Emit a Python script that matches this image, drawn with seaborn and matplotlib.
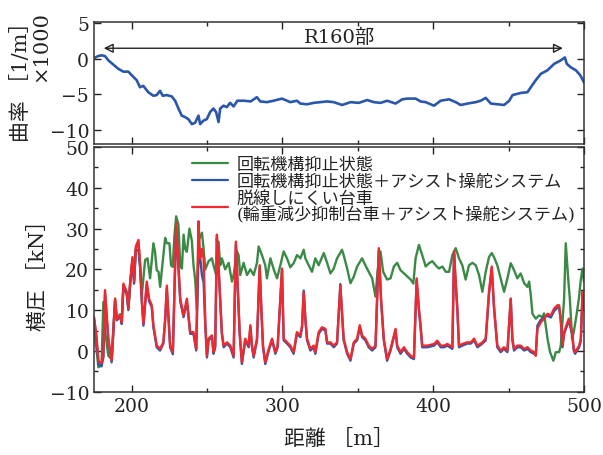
import numpy as np
import pandas as pd
import matplotlib
matplotlib.use("Agg")
import matplotlib.pyplot as plt
from matplotlib.ticker import MultipleLocator
import seaborn as sns

# ---------------- data ----------------
# curvature (top panel) [1/m] x1000
x_curv = [175, 177.8, 180, 182.3, 184.5, 187.8, 191.1, 194.5, 197.8, 200, 203.3, 205.5, 207.7, 211,
          214.4, 216.6, 218.8, 220.6, 223.2, 226.6, 228.8, 231, 233.2, 235.4, 237.6, 239.9, 242.1,
          244.3, 245.4, 247.6, 249.8, 252, 254.2, 256, 257.6, 258.7, 260.9, 263.1, 265.3, 267.6,
          270.1, 274.5, 278.9, 283, 285.3, 289.7, 294.1, 299.7, 305.2, 309.6, 311.9, 316.3, 320.7,
          325, 329.6, 334, 339.6, 345.1, 350.7, 356.2, 360.6, 365.1, 369.5, 375, 379.5, 382.8,
          388.3, 391.6, 395, 400.5, 404.9, 410.5, 414.9, 418.2, 422.7, 428.2, 431.5, 434.8, 438.2,
          442.6, 447, 450.4, 452.6, 458.1, 462.5, 464.7, 468, 471.4, 475.8, 480.2, 484.7, 487.3,
          488.6, 491.3, 494.6, 497.5, 500]
y_curv = [0.1, 0.4, 0.5, 0.4, -0.2, -0.8, -1.4, -1.8, -1.8, -2.3, -3, -4, -3.8, -4.7,
          -5.2, -5.1, -4.5, -5.2, -5.1, -5.3, -5.9, -7, -8, -8.2, -8.5, -9.2, -9,
          -8, -9.2, -8.7, -8.5, -7.5, -7, -7.5, -8.9, -7, -6.6, -6.8, -6.2, -6.7,
          -5.9, -5.9, -6, -5.4, -6, -6.1, -5.9, -5.6, -6.1, -5.9, -6.3, -6.4, -6.2,
          -6.1, -6, -6.1, -6.5, -6.1, -6.2, -5.8, -6.1, -6.2, -5.9, -6.3, -5.7, -5.6,
          -5.6, -6, -6.1, -6.6, -5.9, -5.7, -6.1, -6.5, -6.3, -6.1, -5.9, -5.5, -6.3,
          -6.4, -6.5, -5.9, -5.1, -4.8, -4.7, -4, -3, -2.1, -1.6, -0.7, -0.2, 0.2,
          -0.7, -1.2, -1.6, -2.3, -3.3]

# lateral force (bottom panel) [kN]
x_rb = [175, 176.5, 178, 180, 181.2, 182.3, 184.5, 186.7, 189, 190.1, 192.3, 193.4, 194.5, 196.7,
        197.8, 199, 200.5, 201.6, 202.7, 204.5, 205.6, 206.7, 207.8, 210, 211.5, 213.3, 214.4,
        216.6, 218.8, 221, 222.2, 223.3, 225.5, 227.3, 229.5, 231, 232.2, 234.4, 236.6, 238.8,
        241, 242.8, 244.3, 245.4, 246.6, 247.7, 248.8, 249.9, 251, 253.2, 254.3, 255.4, 256.5,
        257.6, 258.7, 259.8, 261, 263.2, 265.4, 267.6, 269.1, 270.2, 271.6, 273.1, 275.3, 277.6,
        278.7, 279.8, 280.9, 283.1, 284.9, 286, 287.1, 288.6, 290.9, 293.1, 295.3, 296.8, 299.7,
        300.8, 303, 305.2, 307.4, 309.6, 311.9, 313, 314.1, 315.2, 316.3, 318.5, 320.7, 321.8,
        324, 326.2, 328.5, 329.6, 331.8, 334, 336.2, 338.4, 339.5, 340.6, 342.9, 345.1, 347.3,
        349.5, 351.3, 352.8, 355, 357.2, 359.5, 361.7, 363.9, 365.4, 367.2, 369.4, 371.7, 375,
        376.1, 378.3, 380.6, 382.8, 385, 387.2, 389, 390.5, 391.6, 392.7, 396.1, 400.5, 402.7,
        405, 407.2, 409.4, 412.7, 413.8, 414.9, 416, 417.1, 419.3, 422.6, 424.9, 427.1, 429.3,
        432.6, 434.8, 437, 438.8, 440.3, 442.5, 444.7, 446.9, 449.2, 451.4, 452.5, 453.6, 455.8,
        458, 460.3, 462.5, 464.7, 466.9, 468, 469.1, 471.3, 473.5, 475.8, 478, 480.2, 482.4,
        483.5, 484.6, 485.7, 486.8, 489.9, 492.1, 493.2, 494.1, 496.8, 497.9, 499, 500]
y_red = [8.3, 4, -2.5, -3, -1.2, 14.9, 3, -2.4, 12.8, 7.9, 8.7, 7, 16.5, 14.5,
         10.4, 17, 23, 17, 25.6, 27.2, 21, 12.8, 6.7, 17, 12.8, 11.2, 6.3,
         1.3, 0.5, 2.1, 7.9, 16, 1.3, -0.3, 31.4, 21, 12.8, 8.7, 12.8, 4.6,
         4.6, 0.5, 31.8, 22.7, 25, 22.7, 7, -1.2, 3, 3.8, -0.3, 1.3, 28.5,
         21, 12.8, 4.6, 1.3, 2.1, 1.3, -1.2, 26.8, 17, 4.6, -2.8, 3, 1.3,
         6.3, 1.3, -1.2, 3, 21, 10.4, 1.3, -2.8, 0.5, 3, -0.3, 1.3, 20.2,
         3, 2.1, 1.3, -0.3, 4.6, 3.8, 6.3, 14.5, 7.9, 3, 0.5, 1.3, -0.3,
         4.6, 5.8, 5.4, 2.1, 2.1, 1.3, 2.1, 16, 9.5, 3, -0.3, -2, 2.1,
         3, 6.3, 3.8, 3, 1.3, 0.5, 1.3, 25.2, 12.8, 3, -2, 0.5, 5.4,
         1.3, -0.3, 0.9, -0.3, -1.2, -1.6, 17.8, 10.4, 6.3, 1.3, 1.3, 1.7, 2.5,
         1.3, 1.3, 1.7, 0.9, 24.4, 17, 10.4, 1.3, 1.7, 2.1, 2.1, 3, 1.3,
         2.1, 3, 14.5, 20.7, 11, 1.3, 0.1, 0.9, 0.1, 12.8, 3, 0.5, 1.3,
         1.3, 0.5, 0.9, 0.1, -0.3, -1.2, 5.4, 7, 7.9, 9.1, 8.7, 10.4, 11.2,
         11.2, 7.9, 1.3, 4.6, 7.9, 4.6, 0.5, -0.3, 1.3, 3, 14.5, 10.4]
y_blue = [8.0, 3.5, -3.2, -3.8, -1.6, 14.0, 2.6, -2.8, 12.2, 7.5, 8.4, 6.6, 15.8, 14.0,
          10.0, 16.4, 22.2, 16.5, 24.7, 24.7, 20.2, 12.0, 6.2, 16.2, 12.2, 10.8, 5.8,
          0.9, 0.1, 1.8, 7.4, 15.2, 0.9, -0.8, 30.6, 20.4, 12.2, 8.3, 12.2, 4.2,
          4.2, 0.1, 23.5, 23.0, 18.5, 16.8, 6.4, -1.6, 2.6, 3.4, -0.7, 0.9, 27.6,
          20.4, 12.2, 4.2, 0.9, 1.8, 0.9, -1.6, 26.0, 16.4, 4.2, -3.2, 2.6, 0.9,
          5.8, 0.9, -1.6, 2.6, 20.6, 10.0, 0.9, -3.2, 0.1, 2.6, -0.7, 0.9, 19.8,
          2.6, 1.8, 0.9, -0.7, 4.2, 3.4, 5.8, 14.8, 7.5, 2.6, 0.1, 0.9, -0.7,
          4.2, 5.4, 5.0, 1.8, 1.8, 0.9, 1.8, 16.4, 9.1, 2.6, -0.7, -2.4, 1.8,
          2.6, 5.8, 3.4, 2.6, 0.9, 0.1, 0.9, 24.6, 12.2, 2.6, -2.4, 0.1, 5.0,
          0.9, -0.7, 0.5, -0.7, -1.6, -2.0, 17.2, 10.0, 5.8, 0.9, 0.9, 1.3, 2.1,
          0.9, 0.9, 1.3, 0.5, 23.8, 16.4, 10.0, 0.9, 1.3, 1.8, 1.8, 2.6, 0.9,
          1.8, 2.6, 14.0, 20.2, 10.6, 0.9, -0.3, 0.5, -0.3, 12.8, 2.6, 0.1, 0.9,
          0.9, 0.1, 0.5, -0.3, -0.7, -1.0, 6.2, 7.6, 8.3, 8.6, 8.2, 9.8, 10.6,
          10.6, 7.4, 0.9, 4.2, 7.4, 4.2, 0.1, -0.7, 0.9, 2.6, 13.8, 10.0]

x_green = [175, 176.5, 177.9, 180, 181.2, 182.3, 184.5, 186.7, 189, 190.1, 192.3, 193.4, 194.5,
           196.7, 197.8, 199, 200.5, 201.6, 202.7, 204.5, 205.6, 206.7, 208.9, 210.5, 212.2,
           214.4, 215.5, 216.6, 217.8, 218.9, 220, 222.2, 223.3, 225, 226.1, 227.2, 228.3,
           229.5, 231, 232.2, 233.3, 234.4, 235.5, 236.6, 238.3, 239.9, 241, 242.1, 243.2,
           244.3, 246.6, 247.7, 248.8, 251, 253.2, 254.3, 256, 257.6, 258.7, 259.8, 262,
           264.3, 266.5, 267.6, 269.8, 270.9, 272, 274.2, 276.5, 278.7, 280.9, 283.1, 284.2,
           286.4, 288.6, 289.7, 292, 294.2, 296.4, 298.6, 300.8, 303, 305.2, 307.4, 309.7,
           311.9, 314.1, 315.2, 317.4, 319.6, 321.8, 324, 327.4, 329.6, 331.8, 334, 336.2,
           339.5, 340.6, 342.9, 345.1, 347.3, 349.5, 352.8, 355, 357.2, 359.5, 361.7, 363.2,
           365, 366.8, 369.4, 371.7, 373.9, 376.1, 378.3, 380.6, 382.8, 385, 386.8, 388.3,
           390.5, 392.7, 395, 397.2, 399.4, 401.6, 403.8, 406.1, 408.3, 410.5, 412.7, 414.9,
           417.1, 419.3, 421.5, 423.7, 426, 428.2, 430.4, 432.6, 434.8, 437, 438.8, 440.3,
           442.5, 444.7, 447, 449.2, 451.4, 453.6, 455.8, 458, 460.3, 462.5, 463.6, 464.7,
           465.8, 468, 470.2, 472.4, 473.5, 475.8, 477.5, 479.7, 481.3, 483.5, 484.6, 486.8,
           487.9, 489.5, 490.6, 492.1, 493.2, 495, 496.6, 497.9, 499, 500]
y_green = [5, 1, -4, -3.5, 12, 5, -1.2, -2, 12.8, 8, 9, 7.5, 16,
           14, 10.5, 16.5, 22.5, 17.5, 25, 26.5, 21, 13.7, 22.3, 22.7, 17.8,
           26.4, 24.3, 19.8, 19.4, 15.7, 19.8, 27.7, 26.4, 26.4, 21, 20.6, 28,
           33, 31, 21, 20.2, 28.5, 25, 24.3, 30, 27, 21, 17.5, 10,
           27, 29, 25, 20, 22, 22.7, 21, 18.6, 26.8, 21, 22.7, 20,
           21.6, 17, 18.6, 24.4, 23.5, 18.6, 21.6, 18.6, 20, 18.6, 21.6, 25.6,
           23.5, 21, 17.8, 22.7, 20, 17.8, 21, 24.4, 22.7, 20.5, 21.5, 23.5,
           22.7, 24.8, 22.7, 21, 19.4, 22.7, 21, 24, 21.6, 19, 20.2, 22.7,
           24.8, 23.5, 20.2, 16.6, 18.2, 20.7, 22.7, 21, 19.4, 17.8, 13.3, 20,
           24.4, 19.4, 17.5, 17.8, 20.7, 21.6, 19.8, 19, 18.2, 17.5, 16.5, 22.7,
           26, 23.5, 20.7, 21.5, 22, 21, 20.2, 20.7, 19.4, 19.4, 23.5, 25.2,
           22.7, 21, 17.5, 21, 21.6, 21, 18.6, 14.5, 19.4, 23, 24, 23,
           21, 17.8, 14.5, 17.8, 21.5, 19.8, 17.8, 19, 16.6, 15.7, 17, 13.7,
           9.1, 7.9, 8.7, 8.3, 9.2, 3, -0.3, -2.4, -0.3, -0.3, 1.3, 12.8,
           26.4, 17.8, 12.8, 3, 4.6, 8.7, 12.8, 17.5, 20.2, 17]

labels = ["回転機構抑止状態",
          "回転機構抑止状態＋アシスト操舵システム",
          "脱線しにくい台車\n(輪重減少抑制台車＋アシスト操舵システム)"]

# ---------------- style ----------------
sns.set_theme(style="ticks")
plt.rcParams["font.family"] = ["DejaVu Serif", "Noto Sans CJK JP"]
plt.rcParams["axes.unicode_minus"] = True
plt.rcParams["text.color"] = "#222222"
plt.rcParams["axes.labelcolor"] = "#222222"
plt.rcParams["xtick.color"] = "#222222"
plt.rcParams["ytick.color"] = "#222222"

fig = plt.figure(figsize=(6.03, 4.56), dpi=100)
ax1 = fig.add_axes([94 / 603, 1 - 145 / 456, 490 / 603, 122 / 456])
ax2 = fig.add_axes([94 / 603, 1 - 392.7 / 456, 490 / 603, 244.7 / 456])

c_green = "#3a8a46"
c_blue = "#2a57aa"
c_red = "#ee2a30"

df_c = pd.DataFrame({"x": x_curv, "y": y_curv})
sns.lineplot(data=df_c, x="x", y="y", ax=ax1, color=c_blue, lw=1.9,
             estimator=None, sort=False)

df_g = pd.DataFrame({"x": x_green, "y": y_green})
df_b = pd.DataFrame({"x": x_rb, "y": y_blue})
df_r = pd.DataFrame({"x": x_rb, "y": y_red})
sns.lineplot(data=df_g, x="x", y="y", ax=ax2, color=c_green, lw=1.7,
             estimator=None, sort=False, label=labels[0])
sns.lineplot(data=df_b, x="x", y="y", ax=ax2, color=c_blue, lw=1.7,
             estimator=None, sort=False, label=labels[1])
sns.lineplot(data=df_r, x="x", y="y", ax=ax2, color=c_red, lw=1.7,
             estimator=None, sort=False, label=labels[2])

for ax in (ax1, ax2):
    ax.set_xlim(175, 500)
    ax.xaxis.set_major_locator(MultipleLocator(100))
    ax.xaxis.set_minor_locator(MultipleLocator(50))
    ax.tick_params(which="both", direction="in", top=True, right=True,
                   width=1.0, labelsize=13.5)
    ax.tick_params(which="major", length=5)
    ax.tick_params(which="minor", length=3)
    for s in ax.spines.values():
        s.set_linewidth(1.1)
        s.set_color("#333333")

ax1.set_ylim(-12, 5.2)
ax1.yaxis.set_major_locator(MultipleLocator(5))
ax1.tick_params(axis="x", labelbottom=False)
ax1.set_xlabel("")
ax1.set_ylabel("曲率 ［1/m］\n×1000", fontsize=15, multialignment="right",
               linespacing=1.0)
ax1.yaxis.set_label_coords(-0.09, 0.56)

ax2.set_ylim(-10, 50)
ax2.yaxis.set_major_locator(MultipleLocator(10))
ax2.yaxis.set_minor_locator(MultipleLocator(5))
ax2.set_xlabel("距離 ［m］", fontsize=15)
ax2.xaxis.set_label_coords(0.5, -0.15)
ax2.set_ylabel("横圧 ［kN］", fontsize=15)
ax2.yaxis.set_label_coords(-0.095, 0.5)

# R160 arrow
ax1.annotate("", xy=(181.5, 1.5), xytext=(486, 1.5),
             arrowprops=dict(arrowstyle="<|-|>", color="#222222", lw=1.0,
                             mutation_scale=14, fill=False, shrinkA=0, shrinkB=0))
ax1.text(338, 1.75, "R160部", ha="center", va="bottom", fontsize=14)

leg = ax2.legend(loc="upper left", bbox_to_anchor=(0.2, 0.965), frameon=False,
                 fontsize=12.3, handlelength=2.1, handletextpad=0.5,
                 labelspacing=0.0, borderpad=0, borderaxespad=0)
for t in leg.get_texts():
    t.set_linespacing(0.95)
for h in leg.get_lines():
    h.set_linewidth(1.6)

fig.savefig("out.png", dpi=100)
